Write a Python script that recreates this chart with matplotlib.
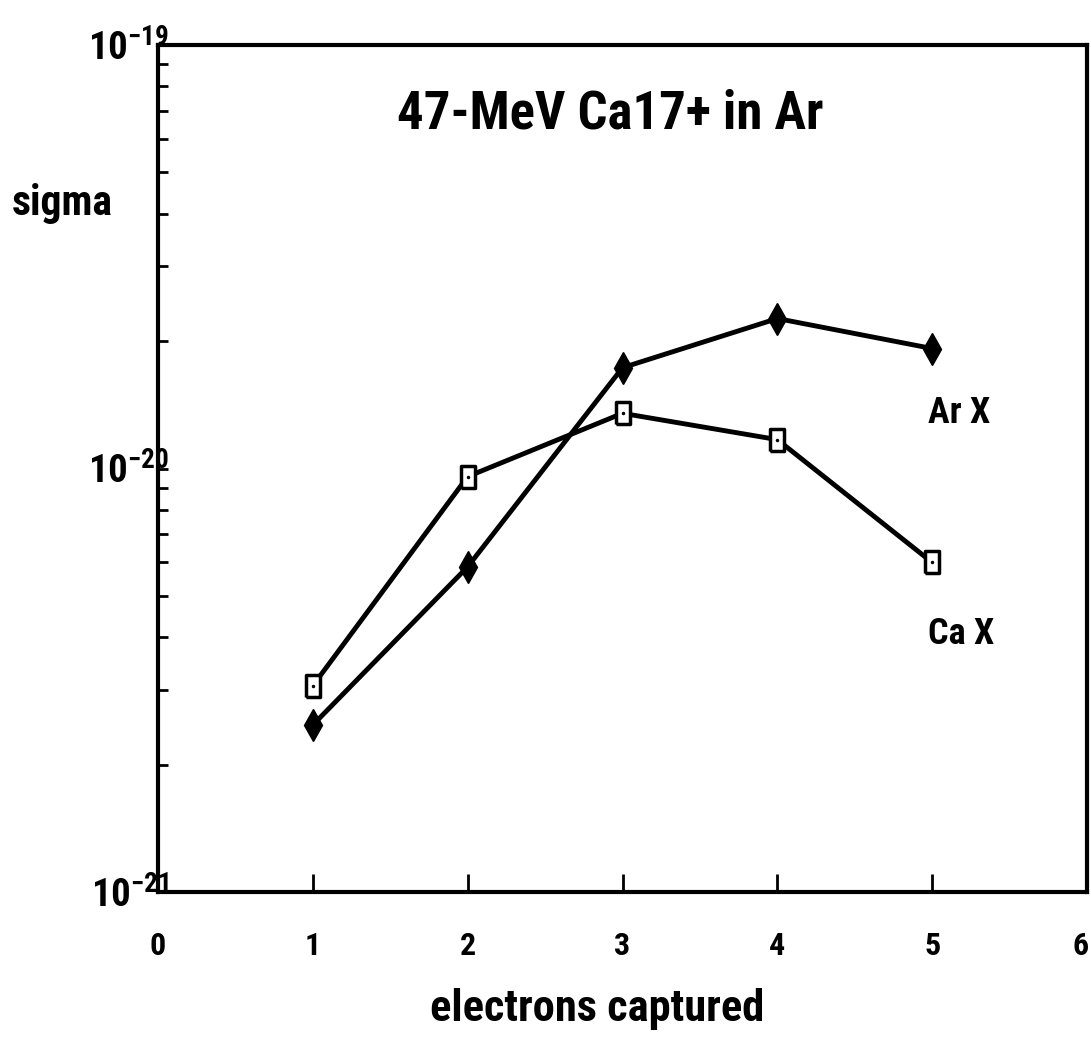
import numpy as np
import matplotlib
matplotlib.use("Agg")
import matplotlib.pyplot as plt
from matplotlib import font_manager
import matplotlib.transforms as mtransforms

# data
electrons = [1, 2, 3, 4, 5]
sigma_ar = [2.48e-21, 5.86e-21, 1.73e-20, 2.26e-20, 1.92e-20]
sigma_ca = [3.07e-21, 9.57e-21, 1.35e-20, 1.17e-20, 6.0e-21]
xticks = [0, 1, 2, 3, 4, 5, 6]
ytick_vals = [1e-21, 1e-20, 1e-19]
ytick_labels = ['10$^{-21}$', '10$^{-20}$', '10$^{-19}$']

# prefer a narrow bold sans, like the scanned original
names = {f.name for f in font_manager.fontManager.ttflist}
fam = 'Liberation Sans'
for cand in ['Liberation Sans Narrow', 'DejaVu Sans Condensed', 'Roboto Condensed']:
    if cand in names:
        fam = cand
        break
plt.rcParams['font.family'] = [fam, 'DejaVu Sans']
plt.rcParams['font.weight'] = 'bold'
plt.rcParams['mathtext.fontset'] = 'custom'
plt.rcParams['mathtext.rm'] = fam + ':bold'
plt.rcParams['mathtext.default'] = 'rm'

fig = plt.figure(figsize=(10.91, 10.37), dpi=100)
ax = fig.add_axes([158/1091, 1 - 892/1037, (1087-158)/1091, (892-45)/1037])

# tall open rectangle marker
rect = [(-0.6, -1), (0.6, -1), (0.6, 1), (-0.6, 1), (-0.6, -1)]

ax.plot(electrons, sigma_ar, color='black', lw=3.5, marker='d',
        markersize=16, markerfacecolor='black', markeredgecolor='black', zorder=3)
ax.plot(electrons, sigma_ca, color='black', lw=3.5, marker=rect,
        markersize=16, markerfacecolor='white', markeredgecolor='black',
        markeredgewidth=2.5, zorder=4)
ax.plot(electrons, sigma_ca, ls='none', marker='.', markersize=3,
        color='black', zorder=5)

ax.set_yscale('log')
ax.set_xlim(0, 6)
ax.set_ylim(1e-21, 1e-19)
ax.set_xticks(xticks)
ax.set_xticklabels([str(v) for v in xticks], fontsize=23)
ax.set_yticks(ytick_vals)
ax.set_yticklabels(ytick_labels, fontsize=28)
ax.tick_params(axis='x', direction='in', length=13, width=2, pad=28)
ax.tick_params(axis='y', which='major', direction='in', length=7, width=2, pad=-8)
ax.tick_params(axis='y', which='minor', direction='in', length=7, width=2)
ax.tick_params(axis='x', which='minor', length=0)
for s in ax.spines.values():
    s.set_linewidth(3)

# last x label sits just inside the figure edge
last = ax.get_xticklabels()[-1]
last.set_transform(last.get_transform() +
                   mtransforms.ScaledTranslation(-6/100, 0, fig.dpi_scale_trans))

ax.text(2.92, 1e-19 * 10**(-0.163), '47-MeV Ca17+ in Ar', ha='center',
        va='center', fontsize=38)
ax.text(4.97, 1.35e-20, 'Ar X', ha='left', va='center', fontsize=26)
ax.text(4.97, 4.07e-21, 'Ca X', ha='left', va='center', fontsize=26)
fig.text(12/1091, 1 - 215/1037, 'sigma', ha='left', va='baseline', fontsize=30)
ax.set_xlabel('electrons captured', fontsize=32, fontweight='bold')
ax.xaxis.set_label_coords((597 - 158) / 929, (892 - 988) / 847)

fig.savefig('out.png', dpi=100)
